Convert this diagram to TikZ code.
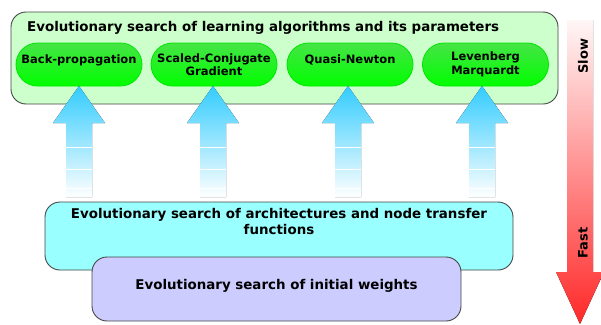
\documentclass[tikz,border=0pt]{standalone}
\usepackage{fontspec}
\setmainfont{DejaVu Sans}
\usetikzlibrary{shapes.misc}
\definecolor{boxgreen}{RGB}{204,255,204}
\definecolor{pilltop}{RGB}{70,228,70}
\definecolor{pillbot}{RGB}{0,255,0}
\definecolor{pillrim}{RGB}{0,230,0}
\definecolor{skyblue}{RGB}{51,204,255}
\definecolor{archcyan}{RGB}{153,255,255}
\definecolor{weightlav}{RGB}{204,204,255}
\definecolor{rimgray}{RGB}{70,70,70}
\definecolor{fastred}{RGB}{255,40,40}
\definecolor{slowpink}{RGB}{255,246,246}
\newcommand{\lifttext}[1]{\raisebox{4.5pt}[\height][\depth]{#1}}
\begin{document}
\begin{tikzpicture}[x=1pt,y=-1pt,
  bigfont/.style={font=\fontsize{13.4}{16}\selectfont\bfseries},
  smallfont/.style={font=\fontsize{11.5}{13.5}\selectfont\bfseries},
  scalefont/.style={font=\fontsize{13}{15}\selectfont\bfseries},
  panel/.style={draw=rimgray, line width=0.9pt, rounded corners=15pt, inner sep=0pt},
  pill/.style={rounded rectangle, draw=pillrim, line width=0.8pt,
    top color=pilltop, bottom color=pillbot, minimum width=126pt,
    minimum height=43pt, inner sep=0pt, align=center, smallfont},
  uparrow/.style={top color=skyblue, bottom color=white, draw=none},
  band/.style={white, line width=0.6pt}]
\useasboundingbox (0,0) rectangle (601,324);

% learning algorithms panel
\node[panel, fill=boxgreen, minimum width=547pt, minimum height=92pt] (algs) at (284.5,58) {};
\node[bigfont, anchor=west, inner sep=0pt] (algstitle) at (27,28)
  {Evolutionary search of learning algorithms and its parameters};

\node[pill] (bp) at (79,64.5) {\lifttext{Back-propagation}};
\node[pill] (scg) at (214,64.5) {Scaled-Conjugate\\Gradient};
\node[pill] (qn) at (350,64.5) {\lifttext{Quasi-Newton}};
\node[pill] (lm) at (485.5,64.5) {Levenberg\\Marquardt};

% upward arrows from the architecture level to each algorithm
\foreach \p/\c in {bp/79, scg/213, qn/348, lm/482}{
  \coordinate (tip-\p) at (\c,86);
  \fill[uparrow] (tip-\p) -- ++(26,37) -- ++(-13,0) -- ++(0,74) -- ++(-26,0)
     -- ++(0,-74) -- ++(-13,0) -- cycle;
  \foreach \yy in {147,169,188}
    \draw[band] (\c-13,\yy) -- (\c+13,\yy);
}

% architecture and initial weight levels
\node[panel, fill=archcyan, minimum width=468pt, minimum height=68pt] (arch) at (279,236) {};
\node[bigfont, align=center, inner sep=0pt, anchor=north] (archtxt) at (279,208)
  {Evolutionary search of architectures and node transfer\\functions};
\node[panel, fill=weightlav, minimum width=369pt, minimum height=64pt] (weights) at (276.5,289) {};
\node[bigfont, inner sep=0pt] (weightstxt) at (276.5,286)
  {Evolutionary search of initial weights};

% speed scale on the right
\fill[top color=slowpink, bottom color=fastred] (567,20) -- (593,20) -- (593,272)
  -- (604,272) -- (580,324) -- (556,272) -- (567,272) -- cycle;
\node[scalefont, rotate=90, inner sep=0pt] (slow) at (583,56) {Slow};
\node[scalefont, rotate=90, inner sep=0pt] (fast) at (583,243) {Fast};
\end{tikzpicture}
\end{document}
